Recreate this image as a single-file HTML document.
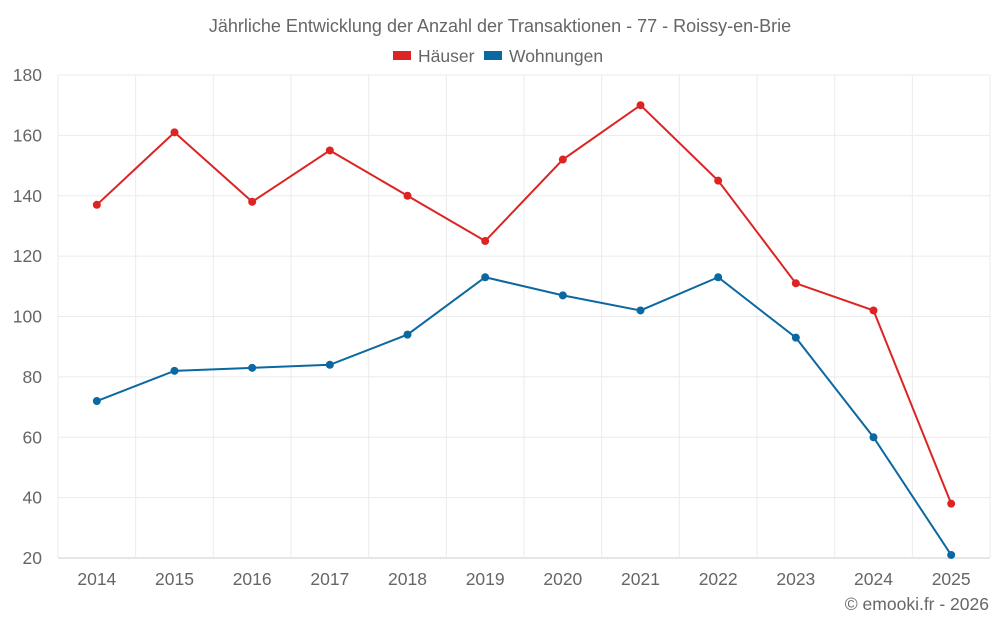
<!DOCTYPE html>
<html><head><meta charset="utf-8"><style>
body{margin:0;background:#fff;font-family:"Liberation Sans",sans-serif}
svg text{font-family:"Liberation Sans",sans-serif;fill:#666}
</style></head><body>
<svg id="chart" width="1000" height="625">
<text x="500" y="32" text-anchor="middle" font-size="18">Jährliche Entwicklung der Anzahl der Transaktionen - 77 - Roissy-en-Brie</text>
<g><rect x="393" y="51" width="18" height="9" fill="#dd2424"/><text x="418" y="62" font-size="17.5">Häuser</text></g>
<g><rect x="484" y="51" width="18" height="9" fill="#0b68a1"/><text x="509" y="62" font-size="17.5">Wohnungen</text></g>
<g id="grid"></g><g id="axes"></g><g id="series"></g>
<text x="989" y="610" text-anchor="end" font-size="17.5">© emooki.fr - 2026</text>
</svg>
<script>
const years=["2014","2015","2016","2017","2018","2019","2020","2021","2022","2023","2024","2025"];
const haeuser=[137,161,138,155,140,125,152,170,145,111,102,38];
const wohnungen=[72,82,83,84,94,113,107,102,113,93,60,21];
const yTicks=[20,40,60,80,100,120,140,160,180];
const NS="http://www.w3.org/2000/svg";
const L=58,R=990,T=75,B=558,yMin=20,yMax=180;
const bw=(R-L)/years.length;
function x(i){return L+bw*(i+0.5);}
function y(v){return B-(v-yMin)/(yMax-yMin)*(B-T);}
function mk(tag,a,p){const e=document.createElementNS(NS,tag);for(const k in a)e.setAttribute(k,a[k]);p.appendChild(e);return e;}
const grid=document.getElementById('grid'),axes=document.getElementById('axes'),ser=document.getElementById('series');
yTicks.forEach(t=>{
 const g=mk('line',{x1:L,x2:R,y1:y(t),y2:y(t),stroke:t===yMin?'#ccc':'#ebebeb'},grid);
 
 
 const tx=mk('text',{x:42,y:y(t)+6,'text-anchor':'end','font-size':17.5},axes);tx.textContent=t;
 
 
});
for(let i=0;i<=years.length;i++){
 const g=mk('line',{x1:L+bw*i,x2:L+bw*i,y1:T,y2:B,stroke:'#ebebeb'},grid);
 
 
}
years.forEach((yr,i)=>{
 const tx=mk('text',{x:x(i),y:585,'text-anchor':'middle','font-size':17.5},axes);tx.textContent=yr;
 
 
});
function series(vals,color,name){
 const p=mk('polyline',{points:vals.map((v,i)=>x(i)+','+y(v)).join(' '),fill:'none',stroke:color,'stroke-width':2},ser);
 
 
 vals.forEach((v,i)=>{
  const c=mk('circle',{cx:x(i),cy:y(v),r:4,fill:color},ser);
  
  
 });
}
series(haeuser,'#dd2424','haeuser');
series(wohnungen,'#0b68a1','wohnungen');
</script>
</body></html>
